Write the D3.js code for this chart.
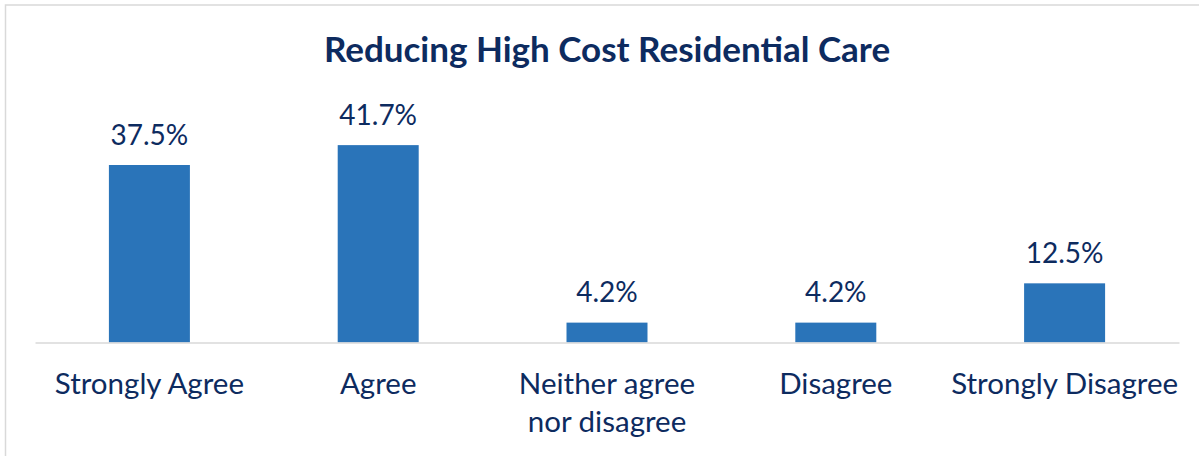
<!DOCTYPE html>
<html lang="en">
<head>
  <meta charset="utf-8">
  <title>Reducing High Cost Residential Care</title>
  <script src="https://d3js.org/d3.v7.min.js"></script>
  <style>
    html, body { margin: 0; padding: 0; background: #fff; }
    svg { display: block; }
    text { font-family: Lato, "Open Sans", sans-serif; fill: #0d2b5f; }
    .title { font-weight: bold; font-size: 35px; }
    .value { font-size: 28px; }
    .tick text { font-size: 29.5px; }
  </style>
</head>
<body>
  <svg width="1199" height="456"></svg>
  <script>
    // data
    var categories = ["Strongly Agree", "Agree", "Neither agree nor disagree", "Disagree", "Strongly Disagree"];
    var tickLines = [["Strongly Agree"], ["Agree"], ["Neither agree", "nor disagree"], ["Disagree"], ["Strongly Disagree"]];
    var values = [37.5, 41.7, 4.2, 4.2, 12.5];
    var valueLabels = ["37.5%", "41.7%", "4.2%", "4.2%", "12.5%"];
    var title = "Reducing High Cost Residential Care";

    var svg = d3.select("svg"),
        margin = {left: 35, right: 20, top: 129.5, bottom: 113.5},
        width = +svg.attr("width"),
        height = +svg.attr("height");

    // chart frame
    svg.append("rect")
        .attr("x", 5.5).attr("y", 5)
        .attr("width", 1210).attr("height", 470)
        .attr("fill", "none")
        .attr("stroke", "#d9d9d9")
        .attr("stroke-width", 1.5);

    var x = d3.scaleBand()
        .domain(categories)
        .range([margin.left, width - margin.right])
        .paddingInner(0.646)
        .paddingOuter(0.323);

    var y = d3.scaleLinear()
        .domain([0, 45])
        .range([height - margin.bottom, margin.top]);

    svg.append("text")
        .attr("class", "title")
        .attr("x", (margin.left + width - margin.right) / 2)
        .attr("y", 62)
        .attr("text-anchor", "middle")
        .text(title);

    svg.selectAll(".bar")
      .data(values)
      .enter().append("rect")
        .attr("class", "bar")
        .attr("x", function(d, i) { return x(categories[i]); })
        .attr("width", x.bandwidth())
        .attr("y", function(d) { return y(d); })
        .attr("height", function(d) { return y(0) - y(d); })
        .attr("fill", "#2a74b9");

    svg.selectAll(".value")
      .data(values)
      .enter().append("text")
        .attr("class", "value")
        .attr("x", function(d, i) { return x(categories[i]) + x.bandwidth() / 2; })
        .attr("y", function(d) { return y(d) - 20.5; })
        .attr("text-anchor", "middle")
        .text(function(d, i) { return valueLabels[i]; });

    var axis = svg.append("g")
        .attr("transform", "translate(0," + y(0) + ")")
        .call(d3.axisBottom(x).tickSize(0).tickFormat(""));

    axis.select(".domain")
        .attr("stroke", "#d9d9d9")
        .attr("stroke-width", 1.5);

    axis.selectAll(".tick text").remove();
    axis.selectAll(".tick").each(function(c, i) {
      var t = d3.select(this).append("text")
          .attr("text-anchor", "middle")
          .attr("y", 51.5);
      tickLines[i].forEach(function(line, j) {
        t.append("tspan")
            .attr("x", 0)
            .attr("dy", j === 0 ? 0 : 37.5)
            .text(line);
      });
    });
  </script>
</body>
</html>
